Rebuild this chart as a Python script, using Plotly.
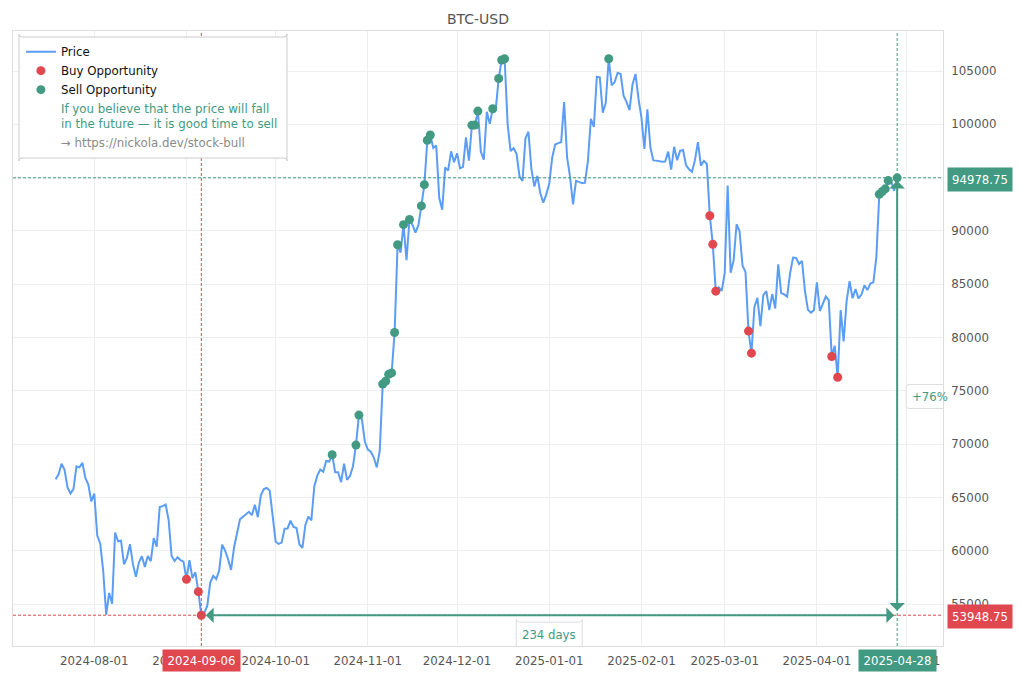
import pandas as pd
import plotly.graph_objects as go

jul = [66709, 67163, 68154, 67585, 65927, 65372, 65777, 67912, 67813, 68255, 66819, 66201, 64619]
aug = [65357, 61415, 60680, 58117, 53991, 56034, 55027, 61710, 60881, 60945, 58719, 59354, 60609, 58737, 57560, 58894,
       59478, 58483, 59493, 59012, 61175, 60381, 64094, 64178, 64333, 62880, 59504, 59027, 59388, 59119, 58969]
sep = [57325, 59112, 57431, 57971, 56160, 53948.75, 54139, 54841, 57019, 57649, 57343, 58127, 60571, 60005, 59182,
       58192, 60308, 61649, 62940, 63192, 63394, 63648, 63329, 64301, 63143, 65181, 65790, 65887, 65635, 63329]
oct_ = [60837, 60632, 60759, 62067, 62089, 62818, 62236, 62131, 60582, 60274, 62445, 63193, 62851, 66046, 67041, 67612,
        67399, 68418, 68362, 69001, 67367, 67361, 66432, 68161, 66642, 67014, 67929, 69907, 72720, 72339, 70215]
nov = [69482, 69289, 68741, 67811, 69359, 75639, 75904, 76545, 76678, 80474, 88701, 87955, 90585, 87250, 91066,
       90558, 89845, 90542, 92343, 94339, 98504, 98997, 97777, 98013, 93102, 91985, 95962, 95652, 97461, 96449]
dec = [97279, 95865, 96002, 98768, 96594, 99920, 99923, 101236, 97432, 96675, 101173, 100043, 101459, 101372, 104298,
       106030, 106140, 100041, 97490, 97755, 97224, 95105, 94686, 98676, 99299, 95795, 94164, 95163, 93530, 92643, 93429]
jan = [94419, 96886, 98107, 98236, 98314, 102078, 96923, 95043, 92484, 94701, 94566, 94488, 94516, 96534, 100505,
       99756, 104462, 104408, 101089, 102016, 106146, 103653, 103960, 104819, 104714, 102682, 102087, 101332, 103733, 104722, 102429]
feb = [100635, 97700, 101405, 97871, 96615, 96593, 96529, 96482, 96500, 97437, 95748, 97885, 96624, 97508, 97581,
       96175, 95773, 95539, 96635, 98333, 96125, 96577, 96273, 91418, 88736, 84347, 84704, 84373]
mar = [86031, 94248, 86065, 87222, 90623, 89961, 86742, 86154, 80601, 78532, 82862, 83722, 81066, 83969, 84343, 82579,
       84075, 82718, 86854, 84167, 84043, 83832, 86054, 87498, 87471, 86900, 87177, 84353, 82597, 82334, 82548]
apr = [85169, 82485, 83102, 83843, 83504, 78214, 79235, 76271, 82573, 79626, 83404, 85287, 83684, 84542, 83668,
       84033, 84895, 84450, 85063, 85174, 87518, 93442, 93699, 93943, 94720, 94646, 93754, 94978.75]
prices = jul + aug + sep + oct_ + nov + dec + jan + feb + mar + apr
dates = [d.strftime("%Y-%m-%d") for d in pd.date_range("2024-07-19", periods=len(prices), freq="D")]
price_on = dict(zip(dates, prices))

buy_dates = ["2024-09-01", "2024-09-05", "2024-09-06", "2025-02-24", "2025-02-25", "2025-02-26", "2025-03-09",
             "2025-03-10", "2025-04-06", "2025-04-08"]
sell_dates = ["2024-10-20", "2024-10-28", "2024-10-29", "2024-11-06", "2024-11-07", "2024-11-08", "2024-11-09",
              "2024-11-10", "2024-11-11", "2024-11-13", "2024-11-15", "2024-11-19", "2024-11-20", "2024-11-21",
              "2024-11-22", "2024-12-06", "2024-12-07", "2024-12-08", "2024-12-13", "2024-12-15", "2024-12-16",
              "2024-12-17", "2025-01-21", "2025-04-22", "2025-04-23", "2025-04-24", "2025-04-25", "2025-04-28"]

low_date, low_price = "2024-09-06", 53948.75
high_date, high_price = "2025-04-28", 94978.75
mid_date, mid_price = "2025-01-01", (low_price + high_price) / 2

BLUE, RED, GREEN = "#5b9df5", "#e0474f", "#429a82"
FONT = "DejaVu Sans"


def round_rect(x0, y0, x1, y1, r=3):
    return (f"M {x0+r} {y0} L {x1-r} {y0} Q {x1} {y0} {x1} {y0+r} L {x1} {y1-r} Q {x1} {y1} {x1-r} {y1} "
            f"L {x0+r} {y1} Q {x0} {y1} {x0} {y1-r} L {x0} {y0+r} Q {x0} {y0} {x0+r} {y0} Z")


fig = go.Figure()
fig.add_trace(go.Scatter(x=dates, y=prices, mode="lines", name="Price", line=dict(color=BLUE, width=2)))
fig.add_trace(go.Scatter(x=buy_dates, y=[price_on[d] for d in buy_dates], mode="markers", name="Buy Opportunity",
                         marker=dict(color=RED, size=9)))
fig.add_trace(go.Scatter(x=sell_dates, y=[price_on[d] for d in sell_dates], mode="markers", name="Sell Opportunity",
                         marker=dict(color=GREEN, size=9)))
fig.add_trace(go.Scatter(x=[None], y=[None], mode="markers", marker=dict(color="rgba(0,0,0,0)", size=1),
                         name=f'<span style="color:{GREEN}">If you believe that the price will fall<br>'
                              'in the future — it is good time to sell</span>'))
fig.add_trace(go.Scatter(x=[None], y=[None], mode="markers", marker=dict(color="rgba(0,0,0,0)", size=1),
                         name='<span style="color:#8a8a8a">→ https://nickola.dev/stock-bull</span>'))

dash = "3px,2px"
shapes = [
    dict(type="line", xref="paper", x0=0, x1=1, yref="y", y0=low_price, y1=low_price,
         line=dict(color=RED, width=1, dash=dash)),
    dict(type="line", xref="x", x0=low_date, x1=low_date, yref="paper", y0=0, y1=1,
         line=dict(color=RED, width=1, dash=dash)),
    dict(type="line", xref="paper", x0=0, x1=1, yref="y", y0=high_price, y1=high_price,
         line=dict(color=GREEN, width=1, dash=dash)),
    dict(type="line", xref="x", x0=high_date, x1=high_date, yref="paper", y0=0, y1=1,
         line=dict(color=GREEN, width=1, dash=dash)),
    dict(type="path", xref="paper", yref="paper", xsizemode="pixel", ysizemode="pixel", xanchor=0, yanchor=1,
         path=round_rect(6, -6, 274, -127), fillcolor="white", line=dict(color="#cccccc", width=1)),
    dict(type="path", xref="x", yref="y", xsizemode="pixel", ysizemode="pixel", xanchor=high_date, yanchor=mid_price,
         path=round_rect(9, -12, 56, 12), fillcolor="white", line=dict(color="#dddddd", width=1)),
    dict(type="path", xref="x", yref="y", xsizemode="pixel", ysizemode="pixel", xanchor=mid_date, yanchor=low_price,
         path=round_rect(-33, -7, 33, -32), fillcolor="white", line=dict(color="#dddddd", width=1)),
]

arrow = dict(text="", showarrow=True, arrowcolor=GREEN, arrowwidth=2, arrowhead=1, startarrowhead=1,
             arrowside="end+start", arrowsize=1.3, startarrowsize=1.3, standoff=3, startstandoff=3,
             xref="x", yref="y", axref="x", ayref="y")
tag_font = dict(color="white", size=11.7, family=FONT)
annotations = [
    dict(x=high_date, y=low_price, ax=low_date, ay=low_price, **arrow),
    dict(x=high_date, y=high_price, ax=high_date, ay=low_price, **arrow),
    dict(x=high_date, xshift=32.5, y=mid_price, yref="y", text="+76%", showarrow=False,
         font=dict(color=GREEN, size=11.7, family=FONT)),
    dict(x=mid_date, y=low_price, yref="y", yshift=-19.5, text="234 days", showarrow=False,
         font=dict(color=GREEN, size=11.7, family=FONT)),
    dict(x=1, xref="paper", xshift=4, xanchor="left", y=low_price, yref="y", yshift=-1.5, text="53948.75",
         showarrow=False, bgcolor=RED, width=62, height=21, font=tag_font),
    dict(x=1, xref="paper", xshift=4, xanchor="left", y=high_price, yref="y", yshift=-1.5, text="94978.75",
         showarrow=False, bgcolor=GREEN, width=62, height=21, font=tag_font),
    dict(x=low_date, y=0, yref="paper", yanchor="top", yshift=-3, text=low_date, showarrow=False,
         bgcolor=RED, width=75, height=19, font=tag_font),
    dict(x=high_date, y=0, yref="paper", yanchor="top", yshift=-3, text=high_date, showarrow=False,
         bgcolor=GREEN, width=75, height=19, font=tag_font),
]

axis = dict(showgrid=True, gridcolor="#eeeeee", gridwidth=1, zeroline=False, showline=True, linecolor="#dddddd",
            linewidth=1, mirror=True, tickfont=dict(family=FONT, size=11.8, color="#555555"), ticks="outside",
            tickcolor="rgba(0,0,0,0)")

fig.update_layout(
    width=1020, height=680, margin=dict(l=13, r=77, t=31, b=34),
    paper_bgcolor="white", plot_bgcolor="white", font=dict(family=FONT, size=12),
    title=dict(text="BTC-USD", x=478 / 1020, xanchor="center", y=1 - 19 / 680, yanchor="middle",
               font=dict(family=FONT, size=14, color="#555555")),
    xaxis=dict(axis, range=["2024-07-04 16:00", "2025-05-13 10:00"], type="date", tick0="2024-08-01", dtick="M1",
               tickformat="%Y-%m-%d", ticklen=4),
    yaxis=dict(axis, range=[51060, 108752], side="right", tick0=0, dtick=5000, tickformat="d", ticklen=5),
    legend=dict(x=0.0085, y=0.99, xanchor="left", yanchor="top", bgcolor="rgba(0,0,0,0)", borderwidth=0,
                font=dict(family=FONT, size=11.8, color="#111111"), tracegroupgap=0),
    shapes=shapes, annotations=annotations, hovermode="x",
)
fig.write_html("out.html", config={"displayModeBar": False},
               post_script="document.body.style.margin='0';window.dispatchEvent(new Event('resize'));")
